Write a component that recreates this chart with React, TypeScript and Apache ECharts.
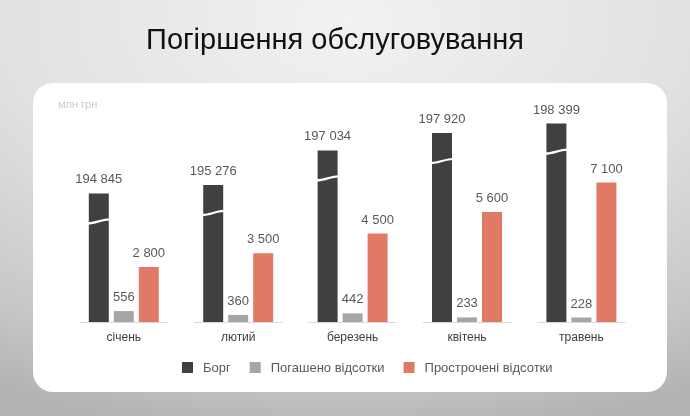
import React, { useEffect, useRef } from "react";
import * as echarts from "echarts";

const months = ["січень", "лютий", "березень", "квітень", "травень"];
const debt = [194845, 195276, 197034, 197920, 198399];
const paidInterest = [556, 360, 442, 233, 228];
const overdueInterest = [2800, 3500, 4500, 5600, 7100];
const seriesNames = ["Борг", "Погашено відсотки", "Прострочені відсотки"];
const DEBT_BREAK = 188300; // broken axis: debt bars start at this value
const Y_MAX = 11300;

const fmt = (v: number) => String(v).replace(/\B(?=(\d{3})+(?!\d))/g, " ");

const FONT = "Liberation Sans, Arial, sans-serif";
const DARK = "#404040";
const GRAY = "#a6a6a6";
const RED = "#e07a67";
const BAR_W = 20;
const BAR_GAP = 5;

export default function App() {
  const ref = useRef<HTMLDivElement>(null);
  useEffect(() => {
    if (!ref.current) return;
    const chart = echarts.init(ref.current, undefined, { renderer: "svg" });
    const labelStyle = {
      show: true,
      position: "top",
      distance: 8,
      color: "#595959",
      fontSize: 13,
      fontFamily: FONT,
    };
    chart.setOption({
      animation: false,
      graphic: [
        {
          type: "rect",
          z: -10,
          silent: true,
          shape: { x: 0, y: 0, width: 690, height: 416 },
          style: {
            fill: new echarts.graphic.RadialGradient(0.5, 0.05, 1.0, [
              { offset: 0, color: "#f2f2f2" },
              { offset: 0.5, color: "#e1e1e1" },
              { offset: 0.85, color: "#c6c6c6" },
              { offset: 1, color: "#b4b4b4" },
            ]),
          },
        },
        {
          type: "rect",
          z: -9,
          silent: true,
          shape: { x: 33, y: 83, width: 634, height: 309, r: 20 },
          style: { fill: "#ffffff" },
        },
        {
          type: "text",
          z: 5,
          x: 335,
          y: 39,
          style: {
            text: "Погіршення обслуговування",
            fill: "#111111",
            font: `29px ${FONT}`,
            align: "center",
            verticalAlign: "middle",
          },
        },
        {
          type: "text",
          z: 5,
          x: 58,
          y: 104,
          style: {
            text: "млн грн",
            fill: "#cccccc",
            font: `11px ${FONT}`,
            align: "left",
            verticalAlign: "middle",
          },
        },
      ],
      legend: {
        top: 361,
        left: 182,
        padding: 0,
        icon: "rect",
        itemWidth: 11,
        itemHeight: 11,
        itemGap: 19,
        data: seriesNames,
        textStyle: { color: "#595959", fontSize: 13, fontFamily: FONT, padding: [0, 0, 0, 5] },
      },
      grid: { left: 66.6, right: 51.4, top: 100, bottom: 94 },
      xAxis: {
        type: "category",
        data: months,
        axisLine: { show: false },
        axisTick: { show: false },
        axisLabel: { color: "#404040", fontSize: 12, fontFamily: FONT, margin: 9 },
      },
      yAxis: { type: "value", min: 0, max: Y_MAX, show: false, splitLine: { show: false } },
      series: [
        {
          name: seriesNames[0],
          type: "bar",
          barWidth: BAR_W,
          barGap: "25%",
          itemStyle: { color: DARK },
          data: debt.map((v) => v - DEBT_BREAK),
          label: { ...labelStyle, formatter: (p: any) => fmt(debt[p.dataIndex]) },
        },
        {
          name: seriesNames[1],
          type: "bar",
          barWidth: BAR_W,
          barGap: "25%",
          itemStyle: { color: GRAY },
          data: paidInterest,
          label: { ...labelStyle, formatter: (p: any) => fmt(p.value) },
        },
        {
          name: seriesNames[2],
          type: "bar",
          barWidth: BAR_W,
          barGap: "25%",
          itemStyle: { color: RED },
          data: overdueInterest,
          label: { ...labelStyle, formatter: (p: any) => fmt(p.value) },
        },
        {
          type: "custom",
          silent: true,
          z: 3,
          data: debt.map((v, i) => [i, v - DEBT_BREAK]),
          renderItem: (params: any, api: any) => {
            const p = api.coord([api.value(0), api.value(1)]);
            const cx = p[0] - (BAR_W + BAR_GAP);
            const y = p[1] + 28;
            const hw = BAR_W / 2 + 1;
            return {
              type: "bezierCurve",
              shape: {
                x1: cx - hw,
                y1: y + 2,
                cpx1: cx - 3,
                cpy1: y + 2,
                cpx2: cx + 3,
                cpy2: y - 2,
                x2: cx + hw,
                y2: y - 2,
              },
              style: { stroke: "#ffffff", lineWidth: 2.2, fill: "none" },
            };
          },
        },
        {
          type: "custom",
          silent: true,
          z: 1,
          data: months.map((_, i) => [i, 0]),
          renderItem: (params: any, api: any) => {
            const p = api.coord([api.value(0), 0]);
            const half = api.size([1, 0])[0] * 0.385;
            return {
              type: "line",
              shape: { x1: p[0] - half, y1: p[1] + 0.5, x2: p[0] + half, y2: p[1] + 0.5 },
              style: { stroke: "#d9d9d9", lineWidth: 1 },
            };
          },
        },
      ],
    });
    return () => chart.dispose();
  }, []);
  return (
    <div
      ref={ref}
      style={{ position: "fixed", left: 0, top: 0, width: 690, height: 416 }}
    />
  );
}
